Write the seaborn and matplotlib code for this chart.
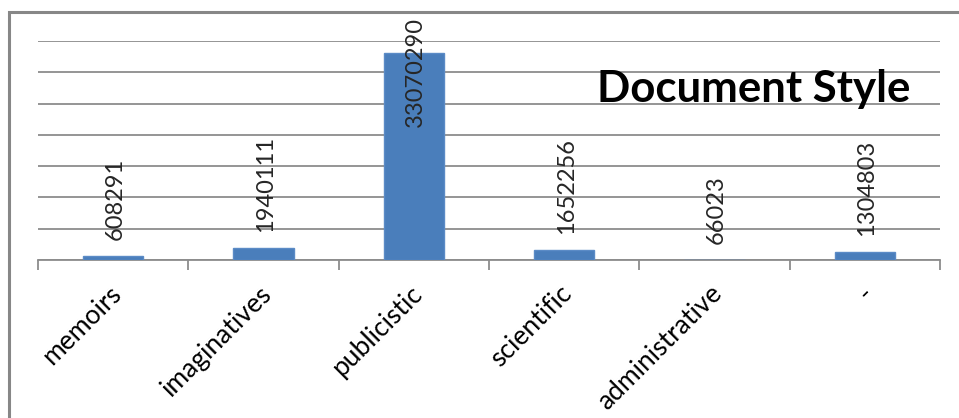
import matplotlib
matplotlib.use("Agg")
import matplotlib.pyplot as plt
import matplotlib.transforms as mtransforms
from matplotlib.patches import Rectangle
import seaborn as sns
import pandas as pd
import numpy as np

# Document counts by style
categories = ["memoirs", "imaginatives", "publicistic", "scientific", "administrative", "-"]
counts = [608291, 1940111, 33070290, 1652256, 66023, 1304803]
title = "Document Style"

sns.set_style("white")
plt.rcParams["font.family"] = ["Lato", "DejaVu Sans"]

df = pd.DataFrame({"style": categories, "count": counts})

W, H = 959, 418
fig = plt.figure(figsize=(W / 100, H / 100), dpi=100)
ax = fig.add_axes([38 / W, 1 - 260 / H, (940 - 38) / W, (260 - 41) / H])

bar_color = "#4A7EBB"
sns.barplot(data=df, x="style", y="count", color=bar_color, width=0.4,
            saturation=1, ax=ax, edgecolor="#5B8BC6", linewidth=1.0)
# keep very short bars visible on top of the baseline
for patch in ax.patches:
    patch.set_zorder(3)

ymax = 35_000_000
ax.set_ylim(0, ymax)
ax.set_xlim(-0.5, len(categories) - 0.5)
ax.set_yticks(np.arange(0, ymax + 1, 5_000_000))
ax.yaxis.grid(True, color="#8C8C8C", linewidth=1.3)
ax.set_axisbelow(True)
ax.tick_params(axis="y", left=False, labelleft=False)

for side in ["left", "right", "top"]:
    ax.spines[side].set_visible(False)
ax.spines["bottom"].set_color("#8C8C8C")
ax.spines["bottom"].set_linewidth(1.3)

# category separators as minor ticks below the axis
ax.set_xticks(range(len(categories)))
ax.set_xticks(np.arange(-0.5, len(categories), 1.0), minor=True)
ax.tick_params(axis="x", which="minor", bottom=True, length=7, width=1.3,
               color="#8C8C8C", direction="out")
ax.tick_params(axis="x", which="major", bottom=True, length=0, pad=21.5)
ax.set_xticklabels(categories, rotation=45, ha="right", va="center",
                   rotation_mode="anchor", fontsize=19, color="black")
shift = mtransforms.ScaledTranslation(4 / 100, 0, fig.dpi_scale_trans)
for lbl in ax.get_xticklabels():
    lbl.set_transform(lbl.get_transform() + shift)
ax.set_xlabel("")
ax.set_ylabel("")

# value labels, rotated; tall bars get their label pinned near the top
for i, v in enumerate(counts):
    if v > 0.8 * ymax:
        ax.annotate(str(v), xy=(i, 1.0), xycoords=("data", "axes fraction"),
                    xytext=(2, 24), textcoords="offset pixels",
                    rotation=90, ha="center", va="top", fontsize=17,
                    annotation_clip=False, zorder=4)
    else:
        ax.annotate(str(v), xy=(i, v), xytext=(2, 16), textcoords="offset pixels",
                    rotation=90, ha="center", va="bottom", fontsize=17, zorder=4)

ax.text(910 / (940 - 38) * 1 - 38 / (940 - 38), 1 - (89 - 41) / (260 - 41), title,
        transform=ax.transAxes, ha="right", va="center",
        fontsize=31.5, fontweight="bold", color="black")

# outer chart frame
fig.add_artist(Rectangle((9 / W, -0.05), 1.2, 1.05 - 12 / H,
                         transform=fig.transFigure, fill=False,
                         edgecolor="#878787", linewidth=2.2))

fig.savefig("out.png", dpi=100)
